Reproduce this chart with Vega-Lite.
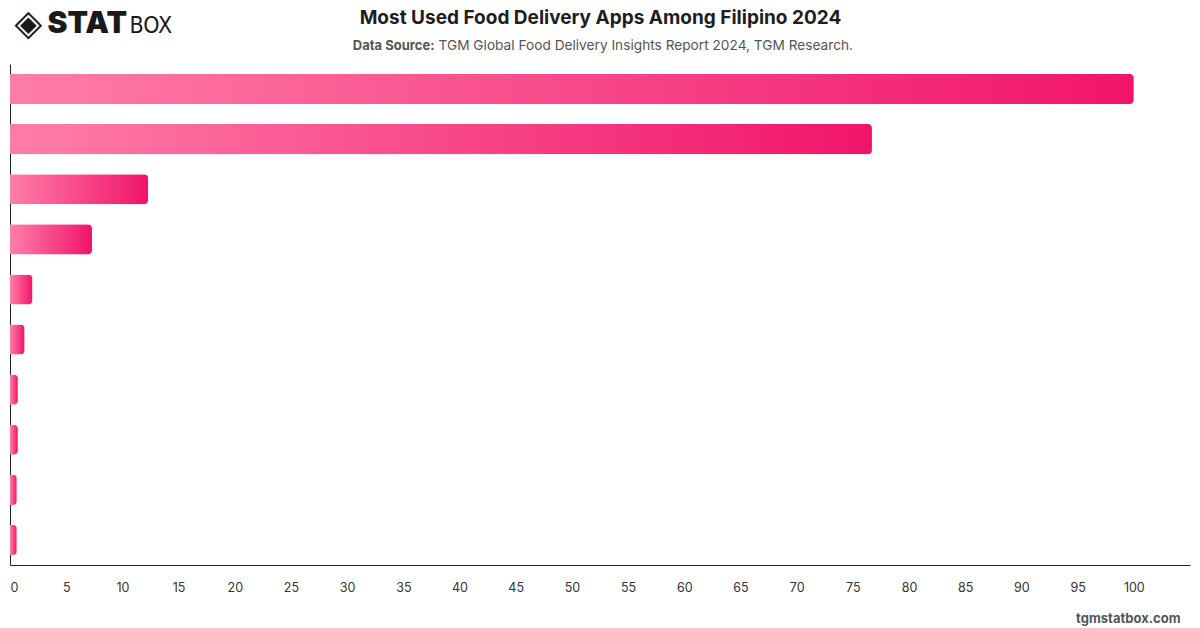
{
  "$schema": "https://vega.github.io/schema/vega-lite/v6.json",
  "autosize": {"type": "none"},
  "width": 1180,
  "height": 501,
  "padding": {"left": 10, "top": 64, "right": 10, "bottom": 63},
  "background": "#ffffff",
  "config": {
    "view": {"stroke": null},
    "font": "Inter",
    "axis": {"grid": false}
  },
  "data": {
    "values": [
      {"app": "GrabFood", "share": 100},
      {"app": "foodpanda", "share": 76.7},
      {"app": "Lalamove", "share": 12.3},
      {"app": "Pick.A.Roo", "share": 7.3},
      {"app": "MetroMart", "share": 2.0},
      {"app": "Angkas Food", "share": 1.3},
      {"app": "Joyride", "share": 0.7},
      {"app": "Toktok", "share": 0.7},
      {"app": "Maxim", "share": 0.6},
      {"app": "Others", "share": 0.6}
    ]
  },
  "encoding": {
    "y": {
      "field": "app",
      "type": "nominal",
      "sort": null,
      "scale": {"paddingInner": 0.4, "paddingOuter": 0.2}
    },
    "x": {
      "field": "share",
      "type": "quantitative",
      "scale": {"domain": [0, 105], "nice": false}
    }
  },
  "resolve": {"axis": {"x": "independent", "y": "independent"}},
  "layer": [
    {
      "mark": {
        "type": "bar",
        "cornerRadiusEnd": 4,
        "color": {
          "gradient": "linear",
          "x1": 0, "y1": 0, "x2": 1, "y2": 0,
          "stops": [
            {"offset": 0, "color": "#ff7ea9"},
            {"offset": 1, "color": "#f1146a"}
          ]
        }
      },
      "encoding": {
        "x": {
          "field": "share",
          "type": "quantitative",
          "axis": {
            "orient": "bottom",
            "values": [0, 5, 10, 15, 20, 25, 30, 35, 40, 45, 50, 55, 60, 65, 70, 75, 80, 85, 90, 95, 100],
            "ticks": false,
            "domain": true,
            "domainColor": "#222222",
            "domainWidth": 1,
            "labelFont": "Inter",
            "labelFontSize": 12.5,
            "labelColor": "#333333",
            "labelPadding": 16,
            "title": "tgmstatbox.com",
            "titleFont": "Inter",
            "titleFontSize": 13,
            "titleFontWeight": "bold",
            "titleColor": "#555555",
            "titleAnchor": null,
            "titleAlign": "right",
            "titleBaseline": "alphabetic",
            "titleX": 1170,
            "titleY": 57
          }
        },
        "y": {
          "field": "app",
          "type": "nominal",
          "sort": null,
          "axis": {
            "orient": "left",
            "labels": false,
            "ticks": false,
            "domain": true,
            "domainColor": "#222222",
            "domainWidth": 1,
            "title": "STAT",
            "titleFont": "Inter",
            "titleFontSize": 30,
            "titleFontWeight": 900,
            "titleColor": "#1a1a1a",
            "titleAngle": 0,
            "titleAnchor": null,
            "titleAlign": "left",
            "titleBaseline": "alphabetic",
            "titleX": 37,
            "titleY": -32
          }
        }
      }
    },
    {
      "mark": {"type": "bar", "opacity": 0},
      "encoding": {
        "x": {
          "field": "share",
          "type": "quantitative",
          "axis": {
            "orient": "top",
            "labels": false,
            "ticks": false,
            "domain": false,
            "title": "Most Used Food Delivery Apps Among Filipino 2024",
            "titleFont": "Inter",
            "titleFontSize": 19,
            "titleFontWeight": "bold",
            "titleColor": "#1e1e1e",
            "titleAnchor": null,
            "titleAlign": "center",
            "titleBaseline": "alphabetic",
            "titleX": 590,
            "titleY": -41
          }
        },
        "y": {
          "field": "app",
          "type": "nominal",
          "sort": null,
          "axis": {
            "orient": "right",
            "labels": false,
            "ticks": false,
            "domain": false,
            "title": "BOX",
            "titleFont": "Liberation Sans Narrow, DejaVu Sans Condensed, Roboto Condensed, sans-serif",
            "titleFontSize": 23,
            "titleFontWeight": "normal",
            "titleColor": "#1a1a1a",
            "titleAngle": 0,
            "titleAnchor": null,
            "titleAlign": "left",
            "titleBaseline": "alphabetic",
            "titleX": -1061,
            "titleY": -32
          }
        }
      }
    },
    {
      "mark": {"type": "bar", "opacity": 0},
      "encoding": {
        "x": {
          "field": "share",
          "type": "quantitative",
          "axis": {
            "orient": "top",
            "labels": false,
            "ticks": false,
            "domain": false,
            "title": "Data Source:",
            "titleFont": "Inter",
            "titleFontSize": 13,
            "titleFontWeight": "bold",
            "titleColor": "#555555",
            "titleAnchor": null,
            "titleAlign": "right",
            "titleBaseline": "alphabetic",
            "titleX": 424,
            "titleY": -15
          }
        },
        "y": {
          "field": "app",
          "type": "nominal",
          "sort": null,
          "axis": {
            "orient": "left",
            "labels": false,
            "ticks": false,
            "domain": false,
            "title": "◈",
            "titleFont": "DejaVu Sans",
            "titleFontSize": 36,
            "titleFontWeight": "bold",
            "titleColor": "#1a1a1a",
            "titleAngle": 0,
            "titleAnchor": null,
            "titleAlign": "left",
            "titleBaseline": "alphabetic",
            "titleX": 4,
            "titleY": -30
          }
        }
      }
    },
    {
      "mark": {"type": "bar", "opacity": 0},
      "encoding": {
        "x": {
          "field": "share",
          "type": "quantitative",
          "axis": {
            "orient": "top",
            "labels": false,
            "ticks": false,
            "domain": false,
            "title": "TGM Global Food Delivery Insights Report 2024, TGM Research.",
            "titleFont": "Inter",
            "titleFontSize": 13.7,
            "titleFontWeight": "normal",
            "titleColor": "#555555",
            "titleAnchor": null,
            "titleAlign": "left",
            "titleBaseline": "alphabetic",
            "titleX": 428,
            "titleY": -15
          }
        },
        "y": {"field": "app", "type": "nominal", "sort": null, "axis": null}
      }
    }
  ]
}
